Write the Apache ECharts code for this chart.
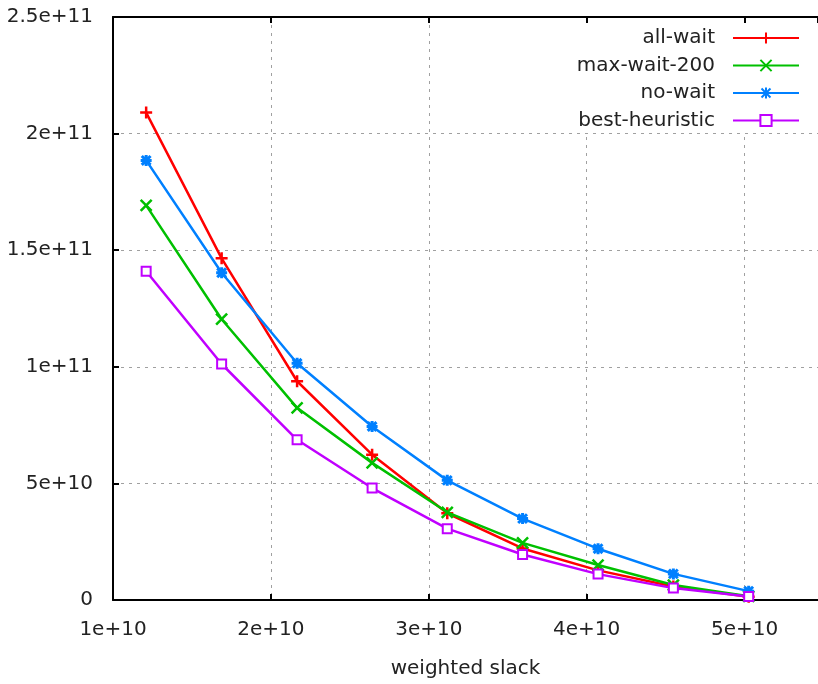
<!DOCTYPE html>
<html>
<head>
<meta charset="utf-8">
<script src="https://cdn.jsdelivr.net/npm/echarts@6/dist/echarts.min.js"></script>
<style>
html,body{margin:0;padding:0;background:#fff;}
#chart{width:818px;height:684px;}
</style>
</head>
<body>
<div id="chart"></div>
<script>
// weighted slack (x values)
const slack = [1.21e10, 1.688e10, 2.166e10, 2.641e10, 3.117e10, 3.594e10, 4.072e10, 4.549e10, 5.026e10];
const seriesNames = ['all-wait', 'max-wait-200', 'no-wait', 'best-heuristic'];
const allWait = [209e9, 146.5e9, 93.8e9, 62.3e9, 37.2e9, 22.1e9, 12.7e9, 5.8e9, 1.4e9];
const maxWait200 = [169.2e9, 120.4e9, 82.4e9, 58.8e9, 37.6e9, 24.5e9, 15.0e9, 6.4e9, 1.6e9];
const noWait = [188.5e9, 140.3e9, 101.5e9, 74.4e9, 51.3e9, 34.9e9, 22.0e9, 11.2e9, 3.8e9];
const bestHeuristic = [141.0e9, 101.2e9, 68.7e9, 48.0e9, 30.6e9, 19.5e9, 11.1e9, 5.1e9, 1.5e9];
const xTicks = [1e10, 2e10, 3e10, 4e10, 5e10];
const yTicks = [0, 5e10, 1e11, 1.5e11, 2e11, 2.5e11];
const xLabel = 'weighted slack';

const colors = ['#ff0000', '#00c000', '#0080ff', '#c000ff'];
const symbols = [
  'path://M0,5L10,5M5,0L5,10',
  'path://M0,0L10,10M0,10L10,0',
  'path://M0,5L10,5M5,0L5,10M1,1L9,9M1,9L9,1',
  'emptyRect'
];
const symSizes = [12, 11, 11, 9];
const symWidths = [2.5, 2.5, 3, 2];
const values = [allWait, maxWait200, noWait, bestHeuristic];

function fmt(v) {
  if (v === 0) return '0';
  return Number(v.toPrecision(6)).toExponential();
}

const FONT = 'DejaVu Sans';
const chart = echarts.init(document.getElementById('chart'));

const xMin = xTicks[0];
const xStep = xTicks[1] - xTicks[0];
const xMax = 5.465e10;

const series = seriesNames.map((name, i) => ({
  name: name,
  type: 'line',
  xAxisIndex: 0,
  yAxisIndex: 0,
  data: slack.map((x, k) => [x, values[i][k]]),
  symbol: symbols[i],
  symbolSize: symSizes[i],
  showAllSymbol: true,
  lineStyle: { color: colors[i], width: 2.5 },
  itemStyle: symbols[i] === 'emptyRect'
    ? { color: colors[i], borderColor: colors[i], borderWidth: symWidths[i] }
    : { color: 'none', borderColor: colors[i], borderWidth: symWidths[i] },
  emphasis: { disabled: true },
  z: 2 + i
}));

chart.setOption({
  animation: false,
  backgroundColor: '#fff',
  textStyle: { fontFamily: FONT },
  grid: { left: 113, top: 17, width: 710, height: 585, containLabel: false },
  legend: {
    data: seriesNames,
    orient: 'vertical',
    right: 0,
    top: 18,
    align: 'right',
    padding: [10, 18, 2, 8],
    backgroundColor: '#fff',
    itemWidth: 66,
    itemHeight: 14,
    itemGap: 7.5,
    textStyle: { fontFamily: FONT, fontSize: 20, color: '#222', lineHeight: 20, padding: [0, 13, 0, 0] },
    z: 5
  },
  xAxis: [
    {
      type: 'value',
      position: 'bottom',
      min: xMin, max: xMax, interval: xStep,
      name: xLabel,
      nameLocation: 'middle',
      nameGap: 59,
      nameTextStyle: { fontFamily: FONT, fontSize: 20, color: '#222' },
      axisLine: { show: true, onZero: false, lineStyle: { color: '#000', width: 2 } },
      axisTick: { show: true, inside: true, length: 6, lineStyle: { color: '#000', width: 2 } },
      axisLabel: { show: true, margin: 20, fontFamily: FONT, fontSize: 20, color: '#222',
        showMaxLabel: false, formatter: fmt },
      splitLine: { show: true, lineStyle: { color: '#a0a0a0', width: 1, type: [3, 5] } }
    },
    {
      type: 'value',
      position: 'top',
      min: xMin, max: xMax, interval: xStep,
      axisLine: { show: true, onZero: false, lineStyle: { color: '#000', width: 2 } },
      axisTick: { show: true, inside: true, length: 6, lineStyle: { color: '#000', width: 2 } },
      axisLabel: { show: false },
      splitLine: { show: false },
      z: 10
    }
  ],
  yAxis: {
    type: 'value',
    min: yTicks[0], max: yTicks[yTicks.length - 1], interval: yTicks[1] - yTicks[0],
    axisLine: { show: true, onZero: false, lineStyle: { color: '#000', width: 2 } },
    axisTick: { show: true, inside: true, length: 6, lineStyle: { color: '#000', width: 2 } },
    axisLabel: { show: true, margin: 20, fontFamily: FONT, fontSize: 20, color: '#222', formatter: fmt },
    splitLine: { show: true, lineStyle: { color: '#a0a0a0', width: 1, type: [3, 5] } }
  },
  series: series
});
</script>
</body>
</html>
